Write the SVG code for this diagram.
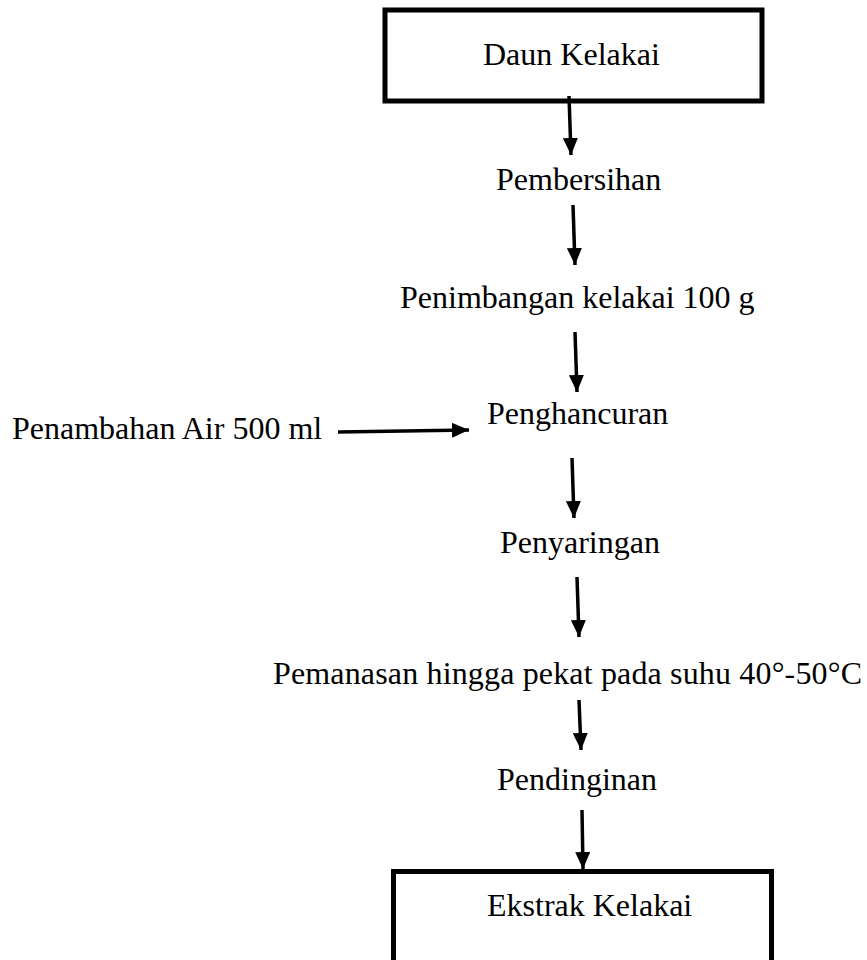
<svg xmlns="http://www.w3.org/2000/svg" width="867" height="960" viewBox="0 0 867 960">
  <style>
    .lbl { font-family: "Liberation Serif", "Times New Roman", serif; font-size: 32px; fill: #000; }
    .box { fill: #fff; stroke: #000; stroke-width: 5; }
    .arr { stroke: #000; stroke-width: 3.5; fill: none; marker-end: url(#head); }
  </style>
  <defs>
    <marker id="head" markerUnits="userSpaceOnUse" markerWidth="17" markerHeight="15" refX="17" refY="7.5" orient="auto" viewBox="0 0 17 15">
      <path d="M0,0 L17,7.5 L0,15 Z" fill="#000"/>
    </marker>
  </defs>

  <rect width="867" height="960" fill="#fff"/>

  <!-- start node -->
  <g id="daun-kelakai">
    <rect class="box" x="385" y="10" width="377" height="91"/>
    <text class="lbl" x="483" y="65">Daun Kelakai</text>
  </g>

  <g id="pembersihan">
    <text class="lbl" x="496" y="190">Pembersihan</text>
  </g>

  <g id="penimbangan">
    <text class="lbl" x="400" y="308">Penimbangan kelakai 100 g</text>
  </g>

  <g id="penambahan-air">
    <text class="lbl" x="12" y="439">Penambahan Air 500 ml</text>
  </g>

  <g id="penghancuran">
    <text class="lbl" x="487" y="424">Penghancuran</text>
  </g>

  <g id="penyaringan">
    <text class="lbl" x="500" y="553">Penyaringan</text>
  </g>

  <g id="pemanasan">
    <text class="lbl" x="273" y="684" textLength="589">Pemanasan hingga pekat pada suhu 40°-50°C</text>
  </g>

  <g id="pendinginan">
    <text class="lbl" x="497" y="790">Pendinginan</text>
  </g>

  <!-- end node -->
  <g id="ekstrak-kelakai">
    <rect class="box" x="393.5" y="871.5" width="378" height="110"/>
    <text class="lbl" x="487" y="916">Ekstrak Kelakai</text>
  </g>

  <!-- connectors -->
  <g id="connectors">
    <line class="arr" x1="569" y1="96" x2="571" y2="155"/>
    <line class="arr" x1="573" y1="205" x2="575" y2="265"/>
    <line class="arr" x1="575" y1="332" x2="577" y2="392"/>
    <line class="arr" x1="338" y1="432" x2="469" y2="430"/>
    <line class="arr" x1="572" y1="458" x2="574" y2="518"/>
    <line class="arr" x1="577" y1="577" x2="579" y2="637"/>
    <line class="arr" x1="579" y1="700" x2="581" y2="750"/>
    <line class="arr" x1="582" y1="810" x2="583" y2="869"/>
  </g>
</svg>
